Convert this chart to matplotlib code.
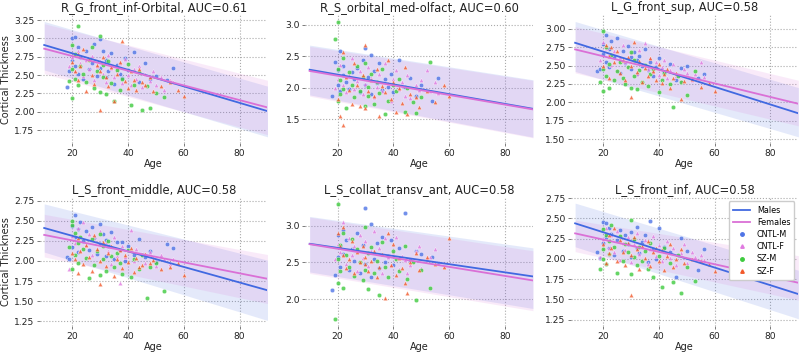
import numpy as np
import matplotlib
matplotlib.use("Agg")
import matplotlib.pyplot as plt
from matplotlib.lines import Line2D

titles = ["R_G_front_inf-Orbital, AUC=0.61", "R_S_orbital_med-olfact, AUC=0.60", "L_G_front_sup, AUC=0.58",
          "L_S_front_middle, AUC=0.58", "L_S_collat_transv_ant, AUC=0.58", "L_S_front_inf, AUC=0.58"]

cntl_m_age = [18,19,20,20,21,21,22,22,23,24,25,26,27,28,29,30,30,31,32,32,33,34,35,36,37,38,39,40,42,44,46,48,50,54,56]
sz_m_age = [19,20,20,20,21,21,22,22,23,24,25,26,27,28,29,30,30,31,31,32,33,34,35,36,37,38,40,41,42,44,45,47,48,50,53]
cntl_f_age = [19,20,21,22,23,24,25,26,27,28,29,30,31,32,33,34,35,36,37,38,39,40,41,42,43,44,45,46,48,49,50,52,53,55,56]
sz_f_age = [20,21,22,22,23,24,25,26,27,28,29,30,30,31,32,33,34,35,36,37,38,39,40,41,42,43,44,45,46,48,49,52,55,58,60]

cntl_m_vals = [
 [2.34,2.55,3.01,2.70,3.02,2.62,2.88,2.51,2.74,2.45,2.83,2.58,2.66,2.92,2.49,2.99,2.60,2.83,2.71,2.47,2.55,2.80,2.38,2.64,2.52,2.46,2.73,2.57,2.82,2.41,2.66,2.45,2.49,2.43,2.60],
 [1.87,2.42,2.05,2.28,2.58,1.95,2.21,2.35,2.10,1.99,2.26,2.14,2.31,1.93,2.45,2.63,2.04,2.18,2.52,1.90,2.27,2.08,2.39,1.97,2.15,2.02,2.22,1.94,2.44,2.01,2.16,1.88,2.05,1.80,2.16],
 [2.42,2.45,2.66,2.80,2.91,2.55,2.72,2.48,2.84,2.62,2.88,2.40,2.70,2.53,2.76,2.61,2.46,2.68,2.58,2.39,2.63,2.50,2.72,2.44,2.55,2.36,2.48,2.60,2.41,2.52,2.30,2.47,2.50,2.33,2.38],
 [2.05,2.02,2.44,2.17,2.57,2.30,2.40,2.11,2.48,2.25,2.37,2.14,2.42,2.28,2.09,2.46,2.21,2.33,2.06,2.26,2.19,2.36,2.02,2.24,2.13,2.23,2.00,2.18,2.08,2.27,2.05,2.12,1.99,2.21,2.16],
 [2.12,2.33,2.88,2.57,2.73,2.44,2.95,2.62,2.81,2.40,2.68,2.52,2.91,2.36,2.74,3.25,2.48,2.63,3.02,2.30,2.55,2.76,2.42,2.85,2.50,2.59,2.81,2.46,2.70,3.18,2.53,2.66,2.62,2.58,2.49],
 [2.08,2.01,2.46,2.20,2.45,2.27,2.38,2.13,2.31,2.05,2.24,2.36,2.10,2.29,2.18,2.33,2.02,2.25,2.14,2.40,2.07,2.21,2.30,1.96,2.47,2.12,2.00,2.38,2.15,2.08,1.78,2.26,2.10,1.86,2.12],
]
sz_m_vals = [
 [2.42,2.91,2.58,2.19,2.79,2.45,3.17,2.36,2.62,2.52,2.40,2.70,2.88,2.33,2.56,3.03,2.27,2.64,2.48,2.24,2.69,2.39,2.15,2.57,2.30,2.45,2.65,2.10,2.37,2.54,2.03,2.35,2.05,2.25,2.20],
 [2.77,3.05,2.30,1.80,2.12,1.90,2.48,1.98,1.68,2.25,2.05,1.86,2.35,1.96,2.18,1.71,2.40,2.02,1.88,2.22,1.75,2.10,1.92,2.30,1.58,1.80,2.05,1.95,2.15,1.62,2.00,1.78,1.60,1.86,2.41],
 [2.28,2.97,2.46,2.16,2.75,2.36,2.52,2.20,2.64,2.30,2.42,2.55,2.33,2.25,2.48,2.68,2.20,2.58,2.36,2.18,2.44,2.27,2.51,2.22,2.38,2.45,2.14,2.31,2.40,2.25,1.94,2.36,2.28,2.10,2.43],
 [2.17,2.50,2.45,1.90,2.35,2.08,2.22,1.97,2.30,2.15,2.04,1.79,2.27,1.95,2.12,2.33,1.82,2.19,2.02,1.88,2.25,2.06,1.93,2.10,1.98,1.84,2.14,1.80,2.02,1.90,2.07,1.54,1.92,1.97,1.63],
 [1.72,3.30,2.55,2.22,2.74,2.38,2.91,2.15,2.60,2.44,2.82,2.31,2.68,2.50,2.26,2.98,2.40,2.63,2.14,2.71,2.35,2.52,2.06,2.78,2.44,2.30,2.66,2.55,2.38,2.72,2.27,2.50,1.99,2.40,2.15],
 [1.87,2.37,2.12,2.00,2.30,1.94,2.22,2.06,2.42,2.15,1.83,2.28,1.98,2.18,2.09,2.48,1.81,2.25,2.02,1.92,2.15,1.97,2.10,1.88,2.20,1.78,2.04,1.65,2.13,1.95,1.72,2.05,1.58,1.90,1.73],
]
cntl_f_vals = [
 [2.62,2.74,2.55,2.83,2.67,2.49,2.71,2.58,2.76,2.44,2.63,2.69,2.52,2.41,2.78,2.60,2.47,2.55,2.66,2.39,2.72,2.50,2.36,2.58,2.45,2.62,2.34,2.51,2.42,2.55,2.37,2.48,2.30,2.44,2.40],
 [2.00,2.14,2.36,2.05,1.93,2.20,2.48,1.98,2.11,2.27,1.90,2.06,2.33,2.16,1.85,2.02,2.22,1.96,2.40,2.08,1.79,2.15,2.29,1.99,2.09,1.88,2.20,1.84,2.05,1.97,2.12,2.28,1.95,2.10,1.92],
 [2.58,2.82,2.74,2.66,2.51,2.70,2.44,2.62,2.78,2.55,2.49,2.67,2.58,2.39,2.71,2.52,2.81,2.46,2.60,2.41,2.55,2.37,2.48,2.58,2.33,2.44,2.52,2.36,2.29,2.45,2.40,2.31,2.38,2.55,2.34],
 [1.90,2.31,2.22,2.41,2.14,2.49,2.20,2.34,2.08,2.28,2.16,2.37,2.02,2.24,2.12,1.96,2.30,2.06,1.72,2.19,2.05,2.13,2.38,2.00,2.15,1.92,2.09,1.98,2.11,2.05,1.94,2.08,2.02,1.96,2.03],
 [2.55,2.75,2.65,3.05,2.48,2.83,2.60,2.72,2.39,2.87,2.56,2.80,2.45,2.66,2.93,2.52,2.70,2.35,2.84,2.58,2.47,2.64,2.85,2.41,2.59,2.53,2.35,2.46,2.66,2.72,2.43,2.55,2.58,2.68,2.49],
 [2.02,2.25,2.38,2.14,2.30,2.08,2.35,1.99,2.20,2.11,2.27,1.96,2.18,2.32,2.06,2.15,2.23,1.94,2.12,2.28,2.03,2.17,1.98,2.10,2.22,2.01,2.14,1.93,2.07,2.18,1.95,2.08,2.02,2.05,1.99],
]
sz_f_vals = [
 [2.68,2.55,2.79,2.43,2.62,2.86,2.29,2.72,2.50,2.38,2.64,2.03,2.56,2.75,2.47,2.35,2.61,2.15,2.52,2.68,2.96,2.42,2.33,2.55,2.44,2.30,2.59,2.40,2.37,2.48,2.29,2.35,2.41,2.30,2.22],
 [1.83,1.55,1.41,2.57,2.18,1.97,1.74,2.40,2.05,1.72,2.20,1.68,2.68,1.96,2.12,1.88,2.30,1.56,2.03,1.93,2.45,1.82,2.10,1.62,2.00,1.76,2.34,1.58,1.90,1.85,1.70,1.96,1.77,2.05,1.87],
 [2.49,2.78,2.63,2.33,2.75,2.55,2.70,2.40,2.58,2.31,2.62,2.07,2.50,2.82,2.41,2.56,2.28,2.47,2.36,2.60,2.42,2.30,2.52,2.26,2.38,2.45,2.20,2.33,2.40,2.05,2.29,2.32,2.21,2.26,2.16],
 [2.10,2.03,1.85,2.28,2.12,1.96,2.20,2.05,1.88,2.32,2.15,1.71,2.00,2.23,1.94,2.10,2.18,1.81,2.02,2.13,1.91,2.07,1.99,2.16,1.86,2.04,1.92,1.95,2.09,1.98,2.01,1.90,1.92,1.97,1.83],
 [2.91,2.72,2.60,2.98,2.43,2.55,2.80,2.36,2.65,2.50,2.72,2.48,2.58,2.39,2.52,2.66,2.30,2.44,2.61,2.02,2.90,2.47,2.75,2.33,2.56,2.42,2.22,2.08,2.50,2.63,2.40,2.58,2.48,2.44,2.83],
 [2.19,1.95,2.30,2.07,2.14,2.38,1.98,2.24,2.09,1.93,2.20,1.55,2.05,2.27,2.12,1.88,2.16,2.01,2.22,1.91,2.08,2.14,1.97,2.11,1.86,2.03,2.18,1.90,2.00,2.12,1.95,2.00,1.98,1.94,1.85],
]

fit_ages = [10, 90]
male_line = [[2.91, 2.01], [2.29, 1.67], [2.81, 1.85], [2.41, 1.635], [2.756, 2.309], [2.44, 1.565]]
female_line = [[2.86, 2.06], [2.27, 1.66], [2.72, 1.98], [2.324, 1.778], [2.75, 2.254], [2.316, 1.705]]
male_lo = [[2.57, 1.66], [1.89, 1.22], [2.42, 1.53], [2.11, 1.26], [2.37, 1.87], [2.15, 1.26]]
male_hi = [[3.23, 2.35], [2.68, 2.13], [3.10, 2.20], [2.71, 2.01], [3.13, 2.70], [2.69, 1.86]]
female_lo = [[2.52, 1.69], [1.87, 1.21], [2.40, 1.68], [2.05, 1.47], [2.35, 1.84], [2.09, 1.49]]
female_hi = [[3.20, 2.43], [2.66, 2.12], [3.03, 2.30], [2.58, 2.08], [3.12, 2.66], [2.48, 2.04]]

ylims = [(1.57, 3.32), (1.12, 3.16), (1.44, 3.19), (1.19, 2.79), (1.63, 3.39), (1.17, 2.76)]

c_male = "#4169e1"
c_female = "#da70d6"
groups = [("CNTL-M", cntl_m_age, cntl_m_vals, "#4f74e6", "o"),
          ("CNTL-F", cntl_f_age, cntl_f_vals, "#e07be0", "^"),
          ("SZ-M", sz_m_age, sz_m_vals, "#3ecb3e", "o"),
          ("SZ-F", sz_f_age, sz_f_vals, "#f2592b", "^")]

fig, axes = plt.subplots(2, 3, figsize=(8, 3.54), dpi=100)
fig.subplots_adjust(left=0.05, right=0.998, top=0.958, bottom=0.079, wspace=0.167, hspace=0.42)

for i, ax in enumerate(axes.flat):
    ax.fill_between(fit_ages, male_lo[i], male_hi[i], color=c_male, alpha=0.14, linewidth=0)
    ax.fill_between(fit_ages, female_lo[i], female_hi[i], color=c_female, alpha=0.14, linewidth=0)
    for name, ages, vals, col, mk in groups:
        ax.scatter(ages, vals[i], s=10, color=col, marker=mk, alpha=0.8, edgecolors="white", linewidths=0.3, zorder=3)
    ax.plot(fit_ages, male_line[i], color=c_male, lw=1.3, zorder=4)
    ax.plot(fit_ages, female_line[i], color=c_female, lw=1.3, zorder=4)
    ax.set_xlim(8.5, 90)
    ax.set_ylim(*ylims[i])
    ax.set_xticks([20, 40, 60, 80])
    ax.set_title(titles[i], fontsize=8.3, pad=3, color="#222222")
    ax.set_xlabel("Age", fontsize=7, labelpad=1, color="#222222")
    if i % 3 == 0:
        ax.set_ylabel("Cortical Thickness", fontsize=7, labelpad=2, color="#222222")
    ax.grid(True, color="#aaaaaa", linestyle=":", linewidth=0.8)
    ax.set_axisbelow(True)
    for s in ax.spines.values():
        s.set_visible(False)
    ax.tick_params(labelsize=6.6, length=2.5, width=0.6, color="#666666", pad=1.5, labelcolor="#222222")

handles = [Line2D([0], [0], color=c_male, lw=1.3, label="Males"),
           Line2D([0], [0], color=c_female, lw=1.3, label="Females")]
for name, ages, vals, col, mk in groups:
    handles.append(Line2D([0], [0], color=col, marker=mk, linestyle="none", markersize=2.5, label=name))
axes[1, 2].legend(handles=handles, loc="upper right", fontsize=5.8, frameon=True, handlelength=2.2,
                  borderpad=0.5, labelspacing=0.4, framealpha=1, edgecolor="#cccccc")

fig.savefig("out.png", dpi=100)
